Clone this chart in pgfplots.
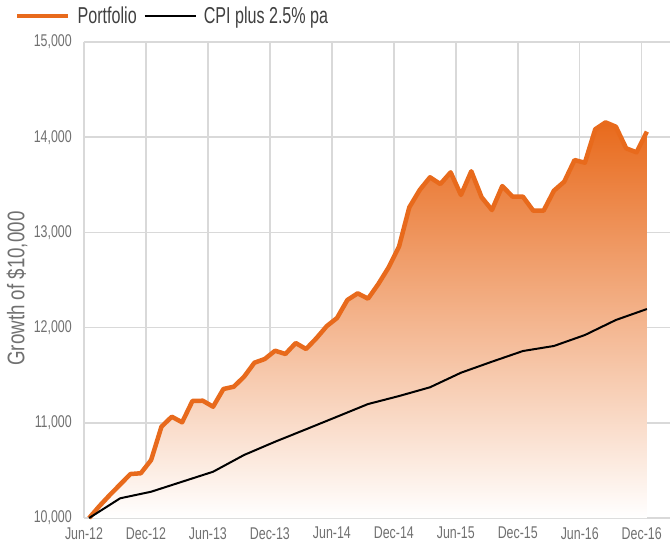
\documentclass[border=0pt]{standalone}
\usepackage{fontspec}
\setmainfont{Liberation Sans}[FakeStretch=0.78]
\newfontfamily\legfont{Liberation Sans}[FakeStretch=0.70]
\newfontfamily\tickfont{Liberation Sans}[FakeStretch=0.73]
\usepackage{pgfplots}
\usepackage{pgfplotstable}
\pgfplotsset{compat=1.18}
\definecolor{orline}{HTML}{E86A1C}
\definecolor{gridg}{HTML}{D9D9D9}
\definecolor{tickg}{HTML}{707070}
\definecolor{legg}{HTML}{404040}

\pgfplotstableread{
x y
0 10000
1 10126
2 10242
3 10352
4 10462
5 10470
6 10609
7 10959
8 11064
9 11005
10 11229
11 11232
12 11169
13 11355
14 11379
15 11484
16 11631
17 11670
18 11757
19 11723
20 11838
21 11775
22 11888
23 12015
24 12101
25 12290
26 12360
27 12304
28 12458
29 12633
30 12850
31 13264
32 13445
33 13579
34 13508
35 13631
36 13393
37 13642
38 13369
39 13235
40 13487
41 13375
42 13375
43 13228
44 13228
45 13438
46 13533
47 13760
48 13732
49 14083
50 14156
51 14110
52 13883
53 13841
54 14058
}\port

\pgfplotstableread{
x y
0 10000
3 10207
6 10276
9 10381
12 10486
15 10662
18 10801
21 10932
24 11064
27 11197
30 11281
33 11373
36 11526
39 11642
42 11754
45 11807
48 11922
51 12080
54 12195
}\cpi

\begin{document}
\begin{tikzpicture}
\begin{pgfinterruptboundingbox}
\begin{axis}[
  scale only axis,
  width=586bp, height=476bp,
  xmin=-0.5, xmax=56.24,
  ymin=10000, ymax=15000,
  clip=false,
  axis x line*=bottom,
  axis y line*=left,
  x axis line style={draw=gridg, line width=2.5bp, -},
  y axis line style={draw=gridg, line width=1.5bp, -},
  major tick length=0pt,
  grid=major,
  major grid style={draw=gridg, line width=1.5bp},
  xtick={-0.5,5.5,11.5,17.5,23.5,29.5,35.5,41.5,47.5,53.5},
  xticklabels={Jun-12,Dec-12,Jun-13,Dec-13,Jun-14,Dec-14,Jun-15,Dec-15,Jun-16,Dec-16},
  ytick={10000,11000,12000,13000,14000,15000},
  scaled y ticks=false,
  /pgf/number format/.cd, 1000 sep={,}, assume math mode=true,
  /pgfplots/.cd,
  tick label style={font=\tickfont\fontsize{17bp}{20bp}\selectfont, text=tickg},
  every x tick label/.append style={inner ysep=0pt, yshift=-9bp},
  every y tick label/.append style={inner xsep=0pt, xshift=-12bp},
  ylabel={Growth of \$10,000},
  every axis y label/.style={at={(axis description cs:-0.1143,0.482)}, rotate=90, anchor=center, font=\fontsize{24bp}{28bp}\selectfont, text=tickg},
  legend columns=2,
  legend style={at={(axis description cs:0,1)}, anchor=west, xshift=-69bp, yshift=26bp,
    draw=none, fill=none, inner sep=0pt,
    font=\legfont\fontsize{23bp}{27bp}\selectfont, text=legg,
    nodes={inner xsep=7bp, inner ysep=2bp}},
  legend cell align=left,
  legend image code/.code={\draw[#1] (0bp,0bp) -- (42bp,0bp); \path (0bp,0bp) -- (51bp,0bp);},
]
\addplot[draw=none, top color=orline, bottom color=white, forget plot]
  table[x=x,y=y] {\port} -- (axis cs:54,10000) -- (axis cs:0,10000) -- cycle;
\addplot[orline, line width=4.5bp, line join=round] table[x=x,y=y] {\port};
\addlegendentry{Portfolio}
\addplot[black, line width=2bp, line join=round] table[x=x,y=y] {\cpi};
\addlegendentry{CPI plus 2.5\% pa}
\coordinate (sw) at (rel axis cs:0,0);
\coordinate (ne) at (rel axis cs:1,1);
\end{axis}
\end{pgfinterruptboundingbox}
\useasboundingbox ([shift={(-84bp,-24bp)}]sw) rectangle ([shift={(0bp,42bp)}]ne);
\end{tikzpicture}
\end{document}
